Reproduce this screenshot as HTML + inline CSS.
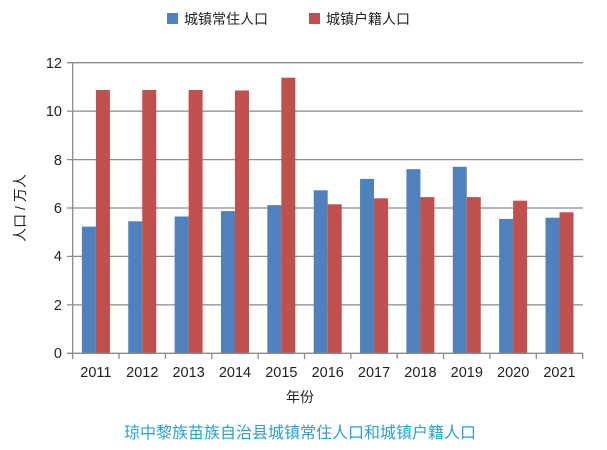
<!DOCTYPE html>
<html><head><meta charset="utf-8"><style>body{margin:0;background:#fff}svg{display:block}text{font-family:"Liberation Sans","Noto Sans CJK SC",sans-serif}</style></head>
<body>
<svg width="607" height="450" xmlns="http://www.w3.org/2000/svg">
<rect width="607" height="450" fill="#fff"/>
<rect x="167" y="13" width="11" height="11" fill="#4f81bd"/>
<text x="184" y="24" font-size="14" fill="#222">城镇常住人口</text>
<rect x="309" y="13" width="11" height="11" fill="#c0504d"/>
<text x="326" y="24" font-size="14" fill="#222">城镇户籍人口</text>
<g stroke="#8a8a8a" stroke-width="1.3">
<line x1="67" y1="62.7" x2="583" y2="62.7"/>
<line x1="67" y1="111.1" x2="583" y2="111.1"/>
<line x1="67" y1="159.6" x2="583" y2="159.6"/>
<line x1="67" y1="208" x2="583" y2="208"/>
<line x1="67" y1="256.4" x2="583" y2="256.4"/>
<line x1="67" y1="304.9" x2="583" y2="304.9"/>
</g>
<g fill="#4f81bd">
<rect x="81.9" y="226.6" width="14" height="126.7"/>
<rect x="128.26" y="221.3" width="14" height="132"/>
<rect x="174.62" y="216.5" width="14" height="136.8"/>
<rect x="220.98" y="211.1" width="14" height="142.2"/>
<rect x="267.34" y="205.1" width="14" height="148.2"/>
<rect x="313.7" y="190.3" width="14" height="163"/>
<rect x="360.06" y="178.9" width="14" height="174.4"/>
<rect x="406.42" y="169.2" width="14" height="184.1"/>
<rect x="452.78" y="166.8" width="14" height="186.5"/>
<rect x="499.14" y="218.9" width="14" height="134.4"/>
<rect x="545.5" y="217.7" width="14" height="135.6"/>
</g>
<g fill="#c0504d">
<rect x="95.9" y="90" width="14" height="263.3"/>
<rect x="142.26" y="90" width="14" height="263.3"/>
<rect x="188.62" y="90" width="14" height="263.3"/>
<rect x="234.98" y="90.5" width="14" height="262.8"/>
<rect x="281.34" y="77.7" width="14" height="275.6"/>
<rect x="327.7" y="204.3" width="14" height="149"/>
<rect x="374.06" y="198.3" width="14" height="155"/>
<rect x="420.42" y="197.1" width="14" height="156.2"/>
<rect x="466.78" y="197.1" width="14" height="156.2"/>
<rect x="513.14" y="200.7" width="14" height="152.6"/>
<rect x="559.5" y="212.3" width="14" height="141"/>
</g>
<g stroke="#8a8a8a" stroke-width="1.3">
<line x1="67" y1="353.3" x2="583" y2="353.3"/>
<line x1="72.7" y1="62.7" x2="72.7" y2="359"/>
<line x1="119.06" y1="353.3" x2="119.06" y2="359"/>
<line x1="165.42" y1="353.3" x2="165.42" y2="359"/>
<line x1="211.78" y1="353.3" x2="211.78" y2="359"/>
<line x1="258.14" y1="353.3" x2="258.14" y2="359"/>
<line x1="304.5" y1="353.3" x2="304.5" y2="359"/>
<line x1="350.86" y1="353.3" x2="350.86" y2="359"/>
<line x1="397.22" y1="353.3" x2="397.22" y2="359"/>
<line x1="443.58" y1="353.3" x2="443.58" y2="359"/>
<line x1="489.94" y1="353.3" x2="489.94" y2="359"/>
<line x1="536.3" y1="353.3" x2="536.3" y2="359"/>
<line x1="582.66" y1="353.3" x2="582.66" y2="359"/>
</g>
<g font-size="14.5" fill="#222" text-anchor="end">
<text x="62" y="68">12</text><text x="62" y="116">10</text><text x="62" y="165">8</text><text x="62" y="213">6</text><text x="62" y="261">4</text><text x="62" y="310">2</text><text x="62" y="358">0</text>
</g>
<g font-size="14.5" fill="#222" text-anchor="middle">
<text x="95.9" y="377">2011</text><text x="142.26" y="377">2012</text><text x="188.62" y="377">2013</text><text x="234.98" y="377">2014</text><text x="281.34" y="377">2015</text><text x="327.7" y="377">2016</text><text x="374.06" y="377">2017</text><text x="420.42" y="377">2018</text><text x="466.78" y="377">2019</text><text x="513.14" y="377">2020</text><text x="559.5" y="377">2021</text>
</g>
<text transform="translate(25,208) rotate(-90)" font-size="14" fill="#222" text-anchor="middle">人口 / 万人</text>
<text x="300" y="402" font-size="14" fill="#222" text-anchor="middle">年份</text>
<text x="300" y="438" font-size="16" fill="#2a9fd6" text-anchor="middle">琼中黎族苗族自治县城镇常住人口和城镇户籍人口</text>
</svg>
</body></html>
